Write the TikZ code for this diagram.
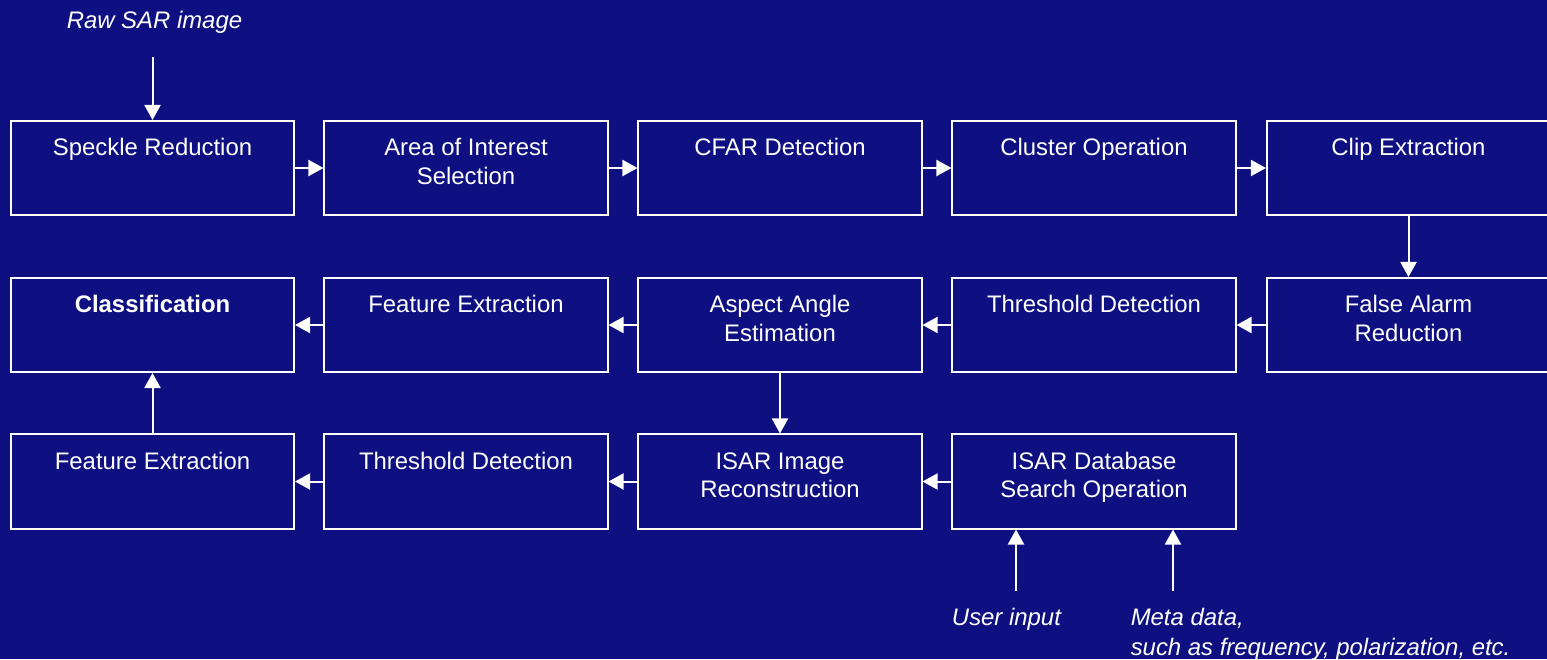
\documentclass[tikz,border=0pt]{standalone}
\usepackage{fontspec}
\setmainfont{Liberation Sans}
\usepackage{tikz}
\usetikzlibrary{arrows.meta}
\definecolor{sarblau}{HTML}{0E1082}
\newcommand{\blocktext}[1]{\parbox[c][2.35cm][t]{7.075cm}{\centering\rule{0pt}{0.8625cm}#1}}

\begin{document}
\begin{tikzpicture}[x=0.025cm,y=-0.025cm,
    block/.style={draw=white, line width=0.05cm, inner sep=0pt, text=white,
      font=\fontsize{17pt}{20.6pt}\selectfont},
    pfeil/.style={draw=white, line width=0.05cm, -{Triangle[length=0.375cm,width=0.4cm]}},
    eingabe/.style={text=white, inner sep=0pt, align=left,
      font=\fontsize{17pt}{20.9pt}\selectfont\itshape}]
    \useasboundingbox (0,0) rectangle (1547,659);
    \clip (0,0) rectangle (1547,659);
    \fill[sarblau] (0,0) rectangle (1547,659);  %Hintergrund
    \foreach \name/\x/\y/\txt in
    {
      speckle/152.5/168/Speckle Reduction,
      aoi/466/168/{Area of Interest\\Selection},
      cfar/780/168/CFAR Detection,
      cluster/1094/168/Cluster Operation,
      clip/1408.5/168/Clip Extraction,
      classif/152.5/325/{\textbf{Classification}},
      feat1/466/325/Feature Extraction,
      aspect/780/325/{Aspect Angle\\Estimation},
      thresh1/1094/325/Threshold Detection,
      falarm/1408.5/325/{False Alarm\\Reduction},
      feat2/152.5/481.5/Feature Extraction,
      thresh2/466/481.5/Threshold Detection,
      isarimg/780/481.5/{ISAR Image\\Reconstruction},
      isardb/1094/481.5/{ISAR Database\\Search Operation}}
    {
      \node[block] (\name) at (\x,\y) {\blocktext{\txt}};  %Kasten
    };
    \foreach \a/\b in
    {
      speckle/aoi, aoi/cfar, cfar/cluster, cluster/clip, clip/falarm,
      falarm/thresh1, thresh1/aspect, aspect/feat1, feat1/classif,
      aspect/isarimg, isardb/isarimg, isarimg/thresh2, thresh2/feat2, feat2/classif}
    {
      \draw[pfeil] (\a) -- (\b);  %Verbindung
    };
    % Eingaben
    \node[eingabe, anchor=base west] (rawlbl) at (66.5,28.3) {Raw SAR image};
    \coordinate (rawin) at (152.5,57);
    \draw[pfeil] (rawin) -- (speckle);
    \node[eingabe, anchor=base west] (userlbl) at (951.7,625) {User input};
    \coordinate (userin) at (1016,591);
    \draw[pfeil] (userin) -- (userin |- isardb.south);
    \node[eingabe, anchor=north west] (metalbl) at (1130.5,608) {Meta data,\\such as frequency, polarization, etc.};
    \coordinate (metain) at (1173,591);
    \draw[pfeil] (metain) -- (metain |- isardb.south);
\end{tikzpicture}
\end{document}
